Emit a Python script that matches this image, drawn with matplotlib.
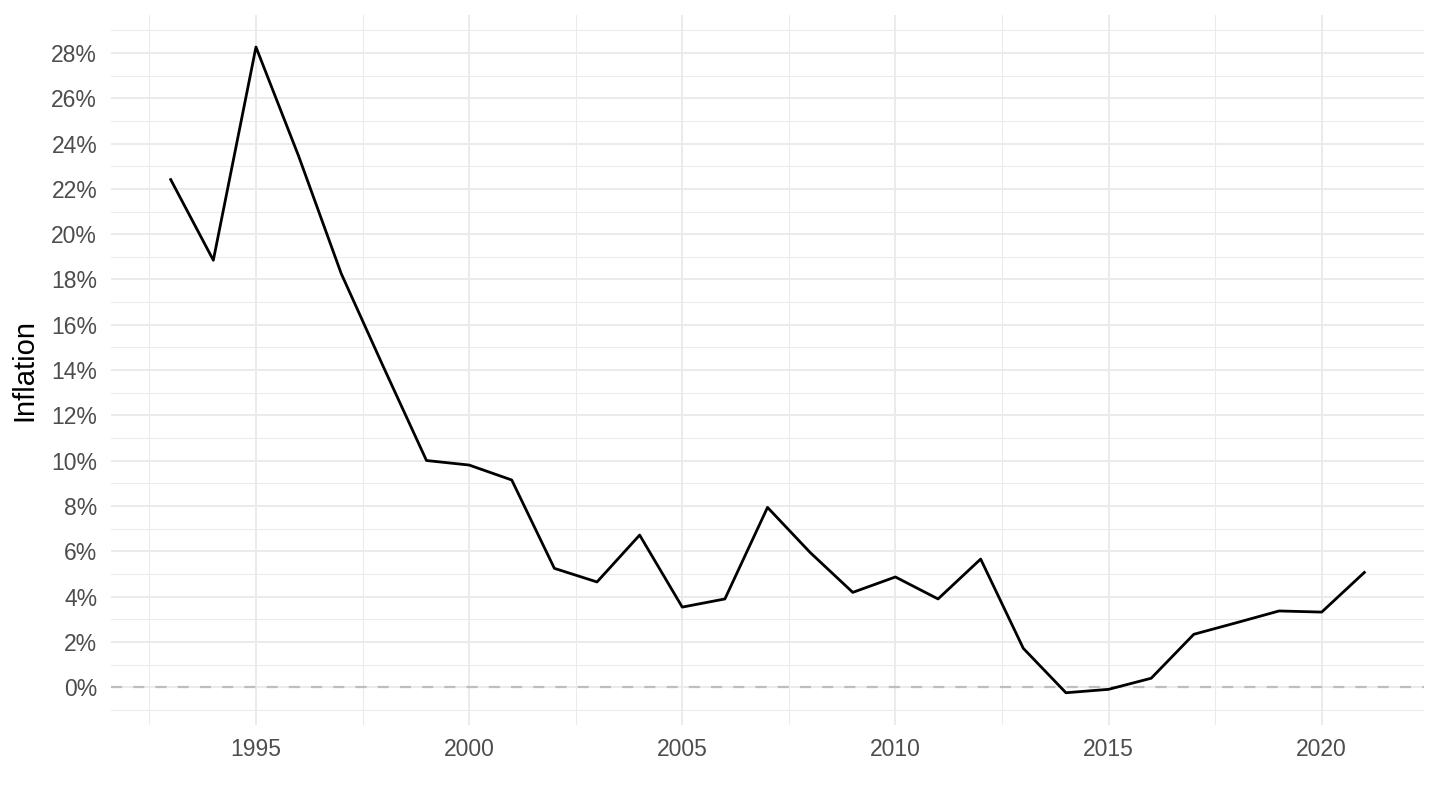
import matplotlib
matplotlib.use("Agg")
import matplotlib.pyplot as plt
from matplotlib.ticker import FuncFormatter, MultipleLocator
import numpy as np

# yearly inflation, in percent
years = list(range(1993, 2022))
inflation = [22.41, 18.85, 28.26, 23.45, 18.26, 14.10, 10.01, 9.81, 9.15,
             5.25, 4.65, 6.72, 3.54, 3.90, 7.94, 5.95, 4.19, 4.87, 3.90, 5.66,
             1.72, -0.24, -0.09, 0.40, 2.34, 2.85, 3.37, 3.32, 5.07]

x_major = [1995, 2000, 2005, 2010, 2015, 2020]
y_major = list(range(0, 29, 2))

plt.rcParams['font.family'] = ['Liberation Sans', 'DejaVu Sans']

fig = plt.figure(figsize=(14.4, 8.1), dpi=100)
ax = fig.add_axes([0.0771, 0.1049, 0.9118, 0.8769])

grid_col = '#EBEBEB'

# ggplot-like expansion of 5% on both axes
xr = max(years) - min(years)
ax.set_xlim(min(years) - 0.05 * xr, max(years) + 0.05 * xr)
yr = max(inflation) - min(inflation)
ax.set_ylim(min(inflation) - 0.05 * yr, max(inflation) + 0.05 * yr)

ax.set_xticks(x_major)
ax.xaxis.set_minor_locator(MultipleLocator(2.5))
ax.set_yticks(y_major)
ax.yaxis.set_minor_locator(MultipleLocator(1))
ax.yaxis.set_major_formatter(FuncFormatter(lambda v, p: f'{v:.0f}%'))

ax.grid(which='major', color=grid_col, linewidth=1.4)
ax.grid(which='minor', color=grid_col, linewidth=0.75)
ax.set_axisbelow(True)

for s in ax.spines.values():
    s.set_visible(False)
ax.tick_params(which='both', length=0)
ax.tick_params(axis='both', labelsize=16.5, labelcolor='#4D4D4D')
ax.tick_params(axis='x', pad=9.5)
ax.tick_params(axis='y', pad=10)

ax.axhline(0, color='#BEBEBE', linewidth=1.6, linestyle=(0, (5, 5)), zorder=2)
ax.plot(years, inflation, color='black', linewidth=2.0, zorder=3)

ax.set_ylabel('Inflation', fontsize=21, color='black', labelpad=9)

fig.savefig('out.png', dpi=100)
